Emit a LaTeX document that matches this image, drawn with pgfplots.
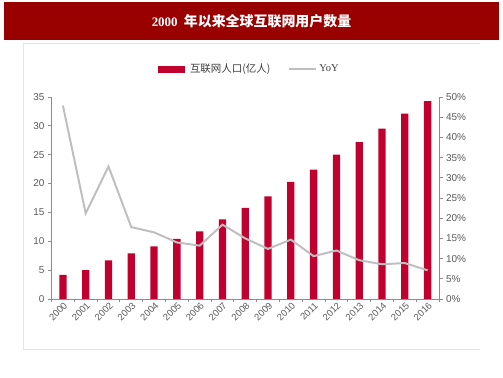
\documentclass[border=0pt]{standalone}
\usepackage{fontspec}
\setmainfont{Liberation Sans}
\newfontfamily\cjk{Noto Sans CJK SC}
\newfontfamily\seriff{Liberation Serif}
\usepackage{pgfplots}
\pgfplotsset{compat=1.18}
\definecolor{titlered}{HTML}{990000}
\definecolor{barred}{HTML}{C0002F}
\definecolor{linegray}{HTML}{BFBFBF}
\definecolor{axisgray}{HTML}{8C8C8C}
\definecolor{ticktext}{HTML}{595959}
\definecolor{framegray}{HTML}{E3E3E3}
\begin{document}
\begin{tikzpicture}
\path[use as bounding box] (0,0) rectangle (503bp,378bp);
\fill[titlered] (4bp,338bp) rectangle (499bp,376bp);
\node[text=white, font=\fontsize{14}{16}\selectfont] at (251.5bp,357bp) {{\seriff\bfseries\fontsize{13}{16}\selectfont 2000}\ \,{\cjk\bfseries 年以来全球互联网用户数量}};
\draw[framegray, line width=1bp] (480bp,334bp) -- (23bp,334bp) -- (23bp,28bp) -- (480bp,28bp);
\begin{axis}[
  at={(51.5bp,79bp)}, anchor=south west,
  scale only axis, width=387.5bp, height=202bp,
  xmin=-0.5, xmax=16.5, ymin=0, ymax=35,
  axis y line*=left, axis x line*=bottom,
  axis line style={axisgray, line width=0.8bp},
  xtick={0,...,16},
  xticklabels={2000,2001,2002,2003,2004,2005,2006,2007,2008,2009,2010,2011,2012,2013,2014,2015,2016},
  major x tick style={draw=none},
  minor xtick={-0.5,0.5,...,16.5},
  minor x tick style={axisgray, line width=0.8bp},
  minor tick length=3.5bp,
  major tick length=3.5bp,
  ytick={0,5,...,35},
  y tick style={axisgray, line width=0.8bp},
  tick align=outside,
  xticklabel style={rotate=45, anchor=east, font=\fontsize{9.5}{11}\selectfont, text=ticktext, yshift=-3bp, xshift=2bp, inner sep=1bp},
  yticklabel style={font=\fontsize{10}{12}\selectfont, text=ticktext},
  /pgf/number format/assume math mode=true,
  clip=false,
]
\addplot[ybar, bar width=0.32, bar shift=0pt, fill=barred, draw=none] coordinates {
(0,4.2) (1,5.0) (2,6.7) (3,7.9) (4,9.1) (5,10.4) (6,11.7) (7,13.8) (8,15.8)
(9,17.8) (10,20.3) (11,22.4) (12,25.0) (13,27.2) (14,29.5) (15,32.1) (16,34.3)};
\end{axis}
\begin{axis}[
  at={(51.5bp,79bp)}, anchor=south west,
  scale only axis, width=387.5bp, height=202bp,
  xmin=-0.5, xmax=16.5, ymin=0, ymax=50,
  hide x axis,
  axis y line*=right,
  axis line style={axisgray, line width=0.8bp},
  ytick={0,5,...,50},
  y tick style={axisgray, line width=0.8bp},
  major tick length=3.5bp,
  tick align=outside,
  yticklabel={\pgfmathprintnumber{\tick}\%},
  yticklabel style={font=\fontsize{10}{12}\selectfont, text=ticktext},
  /pgf/number format/assume math mode=true,
  legend columns=2,
  legend style={at={(0.51,1)}, anchor=center, yshift=28bp, draw=none, fill=none,
    font=\fontsize{10.5}{12}\selectfont, text=ticktext!70!black,
    /tikz/every even column/.append style={column sep=16bp}},
  clip=false,
]
\addlegendimage{legend image code/.code={\fill[barred] (0bp,-2.7bp) rectangle (26bp,2.7bp);}}
\addlegendentry{\hspace{4bp}\cjk 互联网人口(亿人)}
\addplot[color=linegray, line width=2bp, mark=none,
  legend image code/.code={\draw[linegray, line width=2bp] (0bp,0bp) -- (27bp,0bp);}] coordinates {
(0,47.9) (1,21.2) (2,32.8) (3,17.8) (4,16.5) (5,14.0) (6,13.2) (7,18.4) (8,15.0)
(9,12.4) (10,14.7) (11,10.6) (12,12.0) (13,9.6) (14,8.6) (15,8.9) (16,7.1)};
\addlegendentry{\seriff YoY}
\end{axis}
\end{tikzpicture}
\end{document}
